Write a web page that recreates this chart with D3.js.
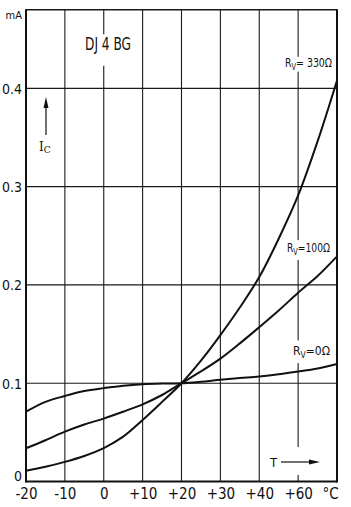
<!DOCTYPE html>
<html>
<head>
<meta charset="utf-8">
<script src="https://cdn.jsdelivr.net/npm/d3@7"></script>
<style>
  html, body { margin: 0; padding: 0; background: #fff; }
  svg { display: block; }
  text { font-family: "DejaVu Sans Condensed", "Liberation Sans Narrow", sans-serif; fill: #111; }
</style>
</head>
<body>
<svg id="chart" width="351" height="507"></svg>
<script>
// ---- data ----
const temperaturePositions = [-20, -15, -10, -5, 0, 5, 10, 15, 20, 25, 30, 35, 40, 45, 50, 55, 60];
const rv0Values   = [0.071, 0.081, 0.087, 0.092, 0.095, 0.0975, 0.099, 0.0997, 0.1, 0.1015, 0.1035, 0.1052, 0.1068, 0.109, 0.1118, 0.115, 0.1195];
const rv100Values = [0.0338, 0.042, 0.0507, 0.058, 0.064, 0.071, 0.0785, 0.088, 0.1, 0.112, 0.125, 0.1405, 0.157, 0.174, 0.192, 0.209, 0.229];
const rv330Values = [0.011, 0.015, 0.020, 0.026, 0.034, 0.0456, 0.0626, 0.081, 0.1, 0.123, 0.149, 0.177, 0.208, 0.247, 0.291, 0.346, 0.408];
const xTickValues = [-20, -10, 0, 10, 20, 30, 40, 50, 60];
const xTickLabels = ["-20", "-10", "0", "+10", "+20", "+30", "+40", "+60", "°C"];
const yTickValues = [0, 0.1, 0.2, 0.3, 0.4];
const yTickLabels = ["0", "0.1", "0.2", "0.3", "0.4"];
const yUnitLabel = "mA";
const titleLabel = "DJ 4 BG";
const seriesNames = ["0", "100", "330"];

// ---- scales ----
const svg = d3.select("#chart");
const x = d3.scaleLinear().domain([-20, 60]).range([26, 337]);
const y = d3.scaleLinear().domain([0, 0.48]).range([481.5, 9.7]);

svg.append("rect").attr("width", 351).attr("height", 507).attr("fill", "#fff");

// ---- grid ----
const grid = svg.append("g").attr("stroke", "#1a1a1a").attr("stroke-width", 1.1);
grid.selectAll("line.v").data(xTickValues.slice(1, -1)).join("line")
  .attr("x1", d => x(d)).attr("x2", d => x(d))
  .attr("y1", y.range()[1]).attr("y2", y.range()[0]);
grid.selectAll("line.h").data(yTickValues.slice(1)).join("line")
  .attr("x1", x.range()[0]).attr("x2", x.range()[1])
  .attr("y1", d => y(d)).attr("y2", d => y(d));
grid.append("line").attr("x1", x.range()[0]).attr("x2", x.range()[1])
  .attr("y1", y.range()[1]).attr("y2", y.range()[1]).attr("stroke-width", 1.4);

// gaps in grid behind labels (white knock-outs)
const gaps = [
  { x: 0, y0: 0.455, y1: 0.423 },
  { x: 50, y0: 0.432, y1: 0.417 },
  { x: 50, y0: 0.2455, y1: 0.2255 },
  { x: 50, y0: 0.1435, y1: 0.1205 },
  { x: 50, y0: 0.0350, y1: 0.0067 }
];
svg.append("g").selectAll("rect").data(gaps).join("rect")
  .attr("x", d => x(d.x) - 2).attr("width", 4)
  .attr("y", d => y(d.y0)).attr("height", d => y(d.y1) - y(d.y0))
  .attr("fill", "#fff");

// ---- frame ----
const frame = svg.append("g").attr("stroke", "#111").attr("stroke-width", 2).attr("fill", "none");
frame.append("line").attr("x1", x.range()[0]).attr("x2", x.range()[0]).attr("y1", y.range()[1] - 0.5).attr("y2", y.range()[0] + 1);
frame.append("line").attr("x1", x.range()[1]).attr("x2", x.range()[1]).attr("y1", y.range()[1] - 0.5).attr("y2", y.range()[0] + 1);
frame.append("line").attr("x1", x.range()[0]).attr("x2", x.range()[1]).attr("y1", y.range()[0]).attr("y2", y.range()[0]);

// ---- tick labels ----
const xAxis = d3.axisBottom(x).tickValues(xTickValues).tickSize(0).tickPadding(0)
  .tickFormat((d, i) => xTickLabels[i]);
const gx = svg.append("g").attr("transform", `translate(0,${y.range()[0] + 3})`).call(xAxis);
gx.select(".domain").remove();
gx.selectAll("text").attr("font-size", 15).attr("dy", "0.95em")
  .style("font-family", '"DejaVu Sans Condensed", sans-serif').attr("fill", "#111")
  .attr("dx", (d, i) => i === xTickLabels.length - 1 ? -7 : 0);

const yAxis = d3.axisLeft(y).tickValues(yTickValues).tickSize(0).tickPadding(4)
  .tickFormat((d, i) => yTickLabels[i]);
const gy = svg.append("g").attr("transform", `translate(${x.range()[0]},0)`).call(yAxis);
gy.select(".domain").remove();
gy.selectAll("text").attr("font-size", 14)
  .style("font-family", '"DejaVu Sans Condensed", sans-serif').attr("fill", "#111")
  .attr("dy", (d, i) => i === 0 ? "-0.1em" : "0.35em");

svg.append("text").attr("x", x.range()[0] - 4).attr("y", 19).attr("text-anchor", "end")
  .attr("font-size", 11).text(yUnitLabel);

// ---- curves ----
const line = d3.line().curve(d3.curveCatmullRom.alpha(0.5))
  .x((d, i) => x(temperaturePositions[i])).y(d => y(d));
const seriesValues = [rv0Values, rv100Values, rv330Values];
svg.append("g").selectAll("path").data(seriesValues).join("path")
  .attr("d", d => line(d)).attr("fill", "none").attr("stroke", "#111")
  .attr("stroke-width", 2).attr("stroke-linejoin", "round");

// ---- annotations ----
svg.append("text").attr("x", 85).attr("y", 50).attr("font-size", 18)
  .attr("textLength", 46).attr("lengthAdjust", "spacingAndGlyphs").text(titleLabel);

function rvLabel(name, px, py, spaced, width) {
  const t = svg.append("text").attr("x", px).attr("y", py).attr("font-size", 12)
    .attr("textLength", width).attr("lengthAdjust", "spacingAndGlyphs");
  t.append("tspan").text("R");
  t.append("tspan").attr("font-size", 8.5).attr("dy", 2.5).text("V");
  t.append("tspan").attr("dy", -2.5).text(spaced ? "= " + name + "Ω" : "=" + name + "Ω");
}
rvLabel(seriesNames[2], 285, 67, true, 47);
rvLabel(seriesNames[1], 287, 252, false, 43);
rvLabel(seriesNames[0], 293, 355, false, 37);

// I_C arrow
const arrowX = 46;
svg.append("line").attr("x1", arrowX).attr("x2", arrowX).attr("y1", 106).attr("y2", 135)
  .attr("stroke", "#111").attr("stroke-width", 1.2);
svg.append("path").attr("d", `M${arrowX},97 L${arrowX - 2.5},108 L${arrowX + 2.5},108 Z`).attr("fill", "#111");
const ic = svg.append("text").attr("x", 39).attr("y", 151).attr("font-size", 12)
  .style("font-family", '"DejaVu Serif", serif');
ic.append("tspan").text("I");
ic.append("tspan").attr("font-size", 9).attr("dy", 2).text("C");

// T arrow
svg.append("text").attr("x", 270).attr("y", 467).attr("font-size", 13).text("T");
svg.append("line").attr("x1", 281).attr("x2", 312).attr("y1", 462).attr("y2", 462)
  .attr("stroke", "#111").attr("stroke-width", 1.2);
svg.append("path").attr("d", "M320,462 L309,459.5 L309,464.5 Z").attr("fill", "#111");
</script>
</body>
</html>
